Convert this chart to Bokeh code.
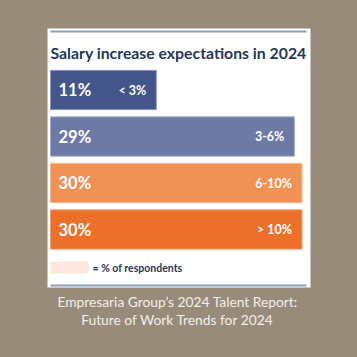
from bokeh.plotting import figure
from bokeh.models import Range1d, ColumnDataSource
from bokeh.core.properties import value
from bokeh.embed import file_html
from bokeh.resources import INLINE

# ---- data ----
categories = ["< 3%", "3-6%", "6-10%", "> 10%"]
respondents = [11, 29, 30, 30]
pct_labels = ["11%", "29%", "30%", "30%"]
bar_colors = ["#44558a", "#6e79a5", "#f09155", "#ec6f2a"]
edge_colors = ["#8e9ac4", "#a3aacb", "#f6b88f", "#f4a273"]

title_text = "Salary increase expectations in 2024"
legend_text = "= % of respondents"
caption_lines = ["Empresaria Group\u2019s 2024 Talent Report:", "Future of Work Trends for 2024"]

# ---- layout / style ----
W = H = 357
BG = "#998b7a"
NAVY = "#263858"
LEAD = 2.8            # fixed lead-in of each bar (label room), in % units
XPX = 7.668           # px per percentage point
YPX = 46.5            # px per row
x0 = -LEAD - 50 / XPX
y0 = -89.5 / YPX

def X(px):
    return x0 + px / XPX

def Y(px):
    return y0 + px / YPX

p = figure(width=W, height=H, output_backend="svg", toolbar_location=None,
           x_range=Range1d(x0, x0 + W / XPX), y_range=Range1d(y0 + H / YPX, y0),
           min_border=0, background_fill_color=BG, border_fill_color=BG,
           outline_line_color=None)
p.axis.visible = False
p.grid.visible = False

# white card
p.quad(left=[X(47)], right=[X(310)], top=[Y(28)], bottom=[Y(287)],
       fill_color="white", line_color=None)
# rules
p.segment(x0=[X(50), X(50)], x1=[X(306), X(306)], y0=[Y(31), Y(285)], y1=[Y(31), Y(285)],
          line_color="#8d9db9", line_width=2)

# title
p.text(x=[X(50)], y=[Y(52)], text=[title_text], text_font=value("Lato"),
       text_font_style="bold", text_font_size="15.8px", text_color=NAVY,
       text_baseline="middle", text_align="left")

# bars
rows = list(range(len(categories)))
src = ColumnDataSource(dict(y=rows, right=respondents, cat=categories, lab=pct_labels,
                            color=bar_colors, edge=edge_colors,
                            left=[-LEAD] * len(rows)))
p.hbar(y="y", left="left", right="right", height=0.845, fill_color="color",
       line_color="edge", line_width=1, source=src)

p.text(x="left", y="y", text="lab", source=src, x_offset=8, text_font=value("Lato"),
       text_font_style="bold", text_font_size="16.5px", text_color="white",
       text_baseline="middle", text_align="left")
p.text(x="right", y="y", text="cat", source=src, x_offset=-10, text_font=value("Lato"),
       text_font_style="bold", text_font_size="12.5px", text_color="white",
       text_baseline="middle", text_align="right")

# legend
p.quad(left=[X(50)], right=[X(88)], top=[Y(261)], bottom=[Y(273)],
       fill_color="#fde7dc", line_color=None)
p.text(x=[X(92)], y=[Y(267)], text=[legend_text], text_font=value("Lato"),
       text_font_style="bold", text_font_size="10.5px", text_color=NAVY,
       text_baseline="middle", text_align="left")

# caption
p.text(x=[X(177), X(177)], y=[Y(301), Y(318.5)], text=caption_lines,
       text_font=value("Lato"), text_font_size="13.8px", text_color="#f3efe9",
       text_baseline="middle", text_align="center")

html = file_html(p, INLINE)
html = html.replace("<head>", "<head><style>body{background:%s;}</style>" % BG, 1)
open("out.html", "w").write(html)
